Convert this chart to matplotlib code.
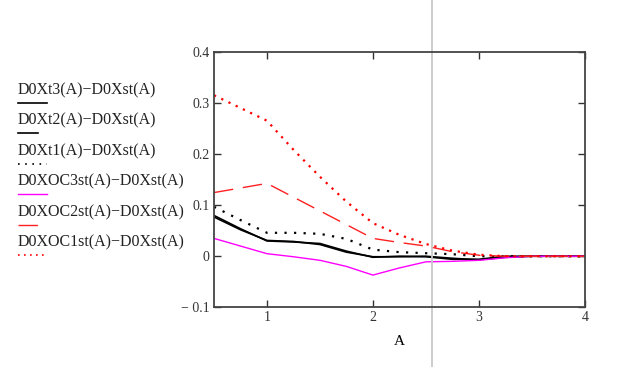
import matplotlib.pyplot as plt
from matplotlib.lines import Line2D

# A values and differences
A = [0.5, 0.75, 1.0, 1.25, 1.5, 1.75, 2.0, 2.25, 2.5, 2.75, 3.0, 3.25, 3.5, 3.75, 4.0]
t3 = [0.080, 0.054, 0.030, 0.028, 0.025, 0.010, -0.002, 0.000, -0.001, -0.006, -0.006, 0.0, 0.0, 0.0, 0.0]
t2 = [0.077, 0.052, 0.031, 0.029, 0.023, 0.008, -0.001, -0.001, 0.000, -0.004, -0.007, -0.002, 0.0, 0.0, 0.0]
t1 = [0.097, 0.071, 0.046, 0.046, 0.044, 0.034, 0.013, 0.008, 0.006, 0.004, 0.000, 0.0, 0.0, 0.0, 0.0]
oc3 = [0.035, 0.020, 0.005, -0.001, -0.008, -0.020, -0.037, -0.023, -0.011, -0.010, -0.008, -0.003, 0.0, 0.0, 0.0]
oc2 = [0.125, 0.134, 0.143, 0.116, 0.089, 0.062, 0.035, 0.027, 0.020, 0.009, 0.002, 0.0, 0.0, 0.0, 0.0]
oc1 = [0.316, 0.291, 0.266, 0.209, 0.156, 0.107, 0.065, 0.042, 0.024, 0.011, 0.003, 0.0, 0.0, 0.0, 0.0]

labels = ['D0Xt3(A)\u2212D0Xst(A)', 'D0Xt2(A)\u2212D0Xst(A)', 'D0Xt1(A)\u2212D0Xst(A)',
          'D0XOC3st(A)\u2212D0Xst(A)', 'D0XOC2st(A)\u2212D0Xst(A)', 'D0XOC1st(A)\u2212D0Xst(A)']
series = [t3, t2, t1, oc3, oc2, oc1]
colors = ['black', 'black', 'black', '#ff00ff', '#ff2020', '#ff0000']
styles = ['-', '-', (0, (1, 3.3)), '-', (0, (14, 7)), (0, (1, 2.6))]
widths = [1.2, 1.2, 1.6, 1.0, 1.0, 1.6]

plt.rcParams['font.family'] = 'Liberation Serif'

fig = plt.figure(figsize=(6.37, 3.67), dpi=100)
ax = fig.add_axes([0.336, 0.163, 0.582, 0.694])

for y, c, ls, lw in zip(series, colors, styles, widths):
    ax.plot(A, y, color=c, linestyle=ls, linewidth=lw)

ax.set_xlim(0.5, 4)
ax.set_ylim(-0.1, 0.4)
ax.set_xticks([1, 2, 3, 4])
ax.set_yticks([-0.1, 0, 0.1, 0.2, 0.3, 0.4])
ax.set_yticklabels(['\u2212 0.1', '0', '0.1', '0.2', '0.3', '0.4'])
ax.tick_params(direction='in', top=True, right=True, length=5, width=1,
               labelsize=10, colors='#333333', pad=3)
for s in ax.spines.values():
    s.set_linewidth(1.3)
    s.set_color('#444444')
ax.set_xlabel('A', fontsize=11, labelpad=8)

# cursor line across the whole picture
ax.axvline(2.56, ymin=-0.3, ymax=1.3, color='#c8c8c8', linewidth=1.3, clip_on=False)

# Mathcad-style legend: label with its line sample below
for i, (lab, c, ls, lw) in enumerate(zip(labels, colors, styles, widths)):
    yt = 1 - (90 + 30.5 * i) / 367
    yl = 1 - (102.5 + 30.5 * i) / 367
    fig.text(18 / 637, yt, lab, fontsize=11.5, va='center', ha='left', color='#222222')
    x1 = 38 / 637 if i in (1, 4) else 47 / 637
    fig.add_artist(Line2D([18 / 637, x1], [yl, yl], color=c, linestyle=ls,
                          linewidth=min(lw, 1.2)))

fig.savefig('out.png', dpi=100)
